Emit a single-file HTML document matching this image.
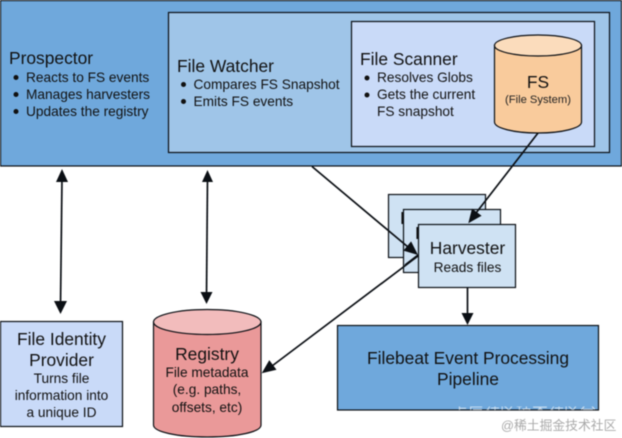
<!DOCTYPE html>
<html><head><meta charset="utf-8"><style>
html,body{margin:0;padding:0;background:#fff;width:622px;height:438px;overflow:hidden}
svg{display:block;filter:blur(.4px)}
text{font-family:"Liberation Sans","Noto Sans CJK SC",sans-serif;fill:#111}
.t{font-size:17.4px}.b{font-size:13.7px}.m{text-anchor:middle}
</style></head><body>
<svg width="622" height="438" viewBox="0 0 622 438" xmlns="http://www.w3.org/2000/svg">
<defs><clipPath id="c"><rect x="452" y="406.500" width="146" height="3.500"/></clipPath></defs>
<g stroke="#0b0f14" stroke-width="1.2">
<rect x="0.5" y="0.5" width="621" height="165.5" fill="#6fa8dc"/>
<rect x="168.5" y="12.5" width="441" height="140" fill="#9fc5e8"/>
<rect x="351.5" y="21.5" width="243" height="125" fill="#c9daf8"/>
<path d="M494.5 45.5V122c0 6 19 11 43.500 11s43.500-5 43.500-11V45.500z" fill="#f9cb9c"/>
<ellipse cx="538" cy="45.500" rx="43.500" ry="10.500" fill="#fbdcbc"/>
</g>
<text class="t" x="9" y="64">Prospector</text>
<text class="b" x="26" y="82">Reacts to FS events</text>
<text class="b" x="26" y="99">Manages harvesters</text>
<text class="b" x="26" y="116">Updates the registry</text>
<g fill="#111"><circle cx="16" cy="77.500" r="2.500"/><circle cx="16" cy="94.500" r="2.500"/><circle cx="16" cy="111.500" r="2.500"/>
<circle cx="183.500" cy="84.500" r="2.500"/><circle cx="183.500" cy="101.500" r="2.500"/>
<circle cx="367" cy="78" r="2.500"/><circle cx="367" cy="95" r="2.500"/></g>
<text class="t" x="177" y="72">File Watcher</text>
<text class="b" x="193.500" y="89">Compares FS Snapshot</text>
<text class="b" x="193.500" y="106">Emits FS events</text>
<text class="t" x="360" y="65">File Scanner</text>
<text class="b" x="377" y="82">Resolves Globs</text>
<text class="b" x="377" y="99">Gets the current</text>
<text class="b" x="377" y="116">FS snapshot</text>
<text class="m t" x="538" y="88">FS</text>
<text class="m" x="538" y="103" style="font-size:11.200px;fill:#222">(File System)</text>

<rect x="388.500" y="194.500" width="97" height="63" fill="#cfe2f3" stroke="#0b0f14" stroke-width="1.200"/>
<text class="t" x="400" y="224">H</text>
<rect x="403.500" y="209.500" width="97" height="63" fill="#cfe2f3" stroke="#0b0f14" stroke-width="1.200"/>
<text class="t" x="415" y="239">H</text>

<g stroke="#0b0f14" stroke-width="1.700" fill="none">
<path d="M312 166.500L408 247"/>
<path d="M538 133L476 213"/>
<path d="M418 256L272 366"/>
<path d="M467.500 287V315"/>
<path d="M62 178L60.500 306"/>
<path d="M207.500 178L206.500 296"/>
</g>
<g fill="#0b0f14">
<path d="M418 255L403.400 250.600L411.100 241.400z"/>
<path d="M468.300 223.300L472 208.600L481.600 215.800z"/>
<path d="M261.700 373.300L269.300 360.100L276.500 369.700z"/>
<path d="M467.500 325L461.500 313H473.500z"/>
<path d="M62 169L56 182H68z"/>
<path d="M60.500 314L54 301H67z"/>
<path d="M207.500 170L202 182H213z"/>
<path d="M206.500 304L200.500 292H212.500z"/>
</g>

<rect x="418.500" y="224.500" width="97" height="63" fill="#cfe2f3" stroke="#0b0f14" stroke-width="1.200"/>
<path d="M418 255L405 265" stroke="#0b0f14" stroke-width="1.700" fill="none"/>
<text class="t m" x="467.500" y="254">Harvester</text>
<text class="m" x="467.500" y="272" style="font-size:13.700px">Reads files</text>

<rect x="337.500" y="325.500" width="261" height="84.500" fill="#6fa8dc" stroke="#0b0f14" stroke-width="1.200"/>
<text class="m t" x="468" y="364">Filebeat Event Processing</text>
<text class="m t" x="468" y="385">Pipeline</text>
<g clip-path="url(#c)"><text x="452" y="416" style="font-size:16px;fill:#fff;opacity:.6">上层社区技术社区分享</text></g>

<rect x="0.500" y="321.500" width="122" height="105" fill="#c9daf8" stroke="#0b0f14" stroke-width="1.200"/>
<text class="m t" x="61.500" y="345">File Identity</text>
<text class="m t" x="61.500" y="366">Provider</text>
<text class="m b" x="61.500" y="383">Turns file</text>
<text class="m b" x="61.500" y="400">information into</text>
<text class="m b" x="61.500" y="417">a unique ID</text>

<g stroke="#0b0f14" stroke-width="1.200">
<path d="M153.500 322V425c0 7 24 12 53.750 12s53.750-5 53.750-12V322z" fill="#ea9999"/>
<ellipse cx="207.250" cy="322" rx="53.750" ry="12.500" fill="#f2bcbc"/>
</g>
<text class="m t" x="207" y="360">Registry</text>
<text class="m b" x="207" y="377">File metadata</text>
<text class="m b" x="207" y="394">(e.g. paths,</text>
<text class="m b" x="207" y="412">offsets, etc)</text>

<text x="501" y="430" style="font-size:12.800px;fill:#aaa">@稀土掘金技术社区</text>
</svg>
</body></html>
